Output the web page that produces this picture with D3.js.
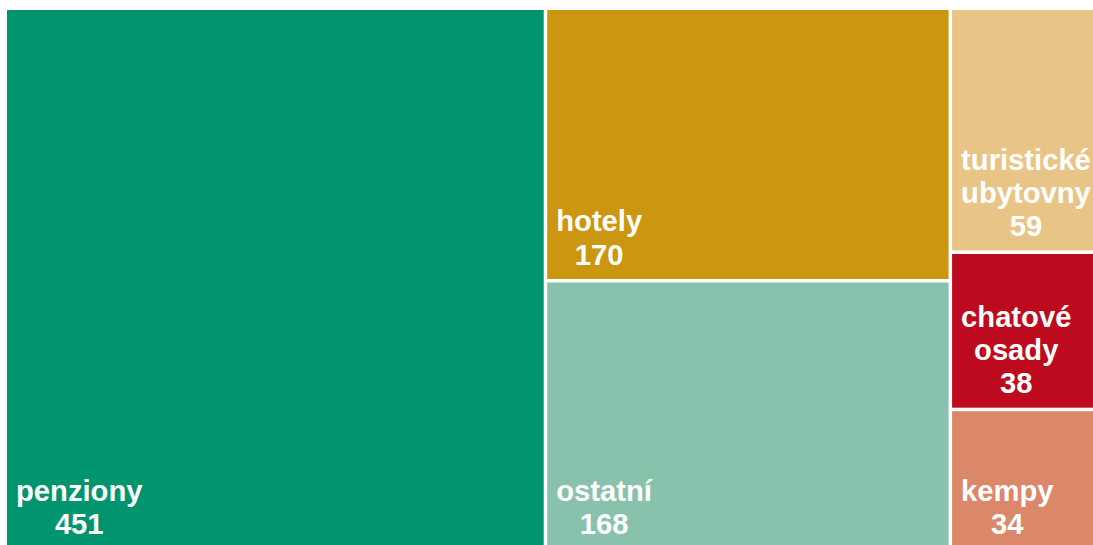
<!DOCTYPE html>
<html>
<head>
<meta charset="utf-8">
<script src="https://cdn.jsdelivr.net/npm/d3@7"></script>
<style>
  html, body { margin: 0; padding: 0; background: #ffffff; overflow: hidden; }
  svg { display: block; }
</style>
</head>
<body>
<svg id="chart" width="1093" height="545"></svg>
<script>
const categories = ["penziony", "hotely", "ostatní", "turistické ubytovny", "chatové osady", "kempy"];
const labelLines = [["penziony"], ["hotely"], ["ostatní"], ["turistické", "ubytovny"], ["chatové", "osady"], ["kempy"]];
const values = [451, 170, 168, 59, 38, 34];
const colors = ["#00946F", "#CC9610", "#88C2AD", "#E8C587", "#BD0A1E", "#DA876A"];

const W = 1093, H = 545;
const svg = d3.select("#chart");
const x0 = 7, y0 = 10;
const pad = 3.5;

const data = {
  name: "root",
  children: categories.map((c, i) => ({ name: c, value: values[i], lines: labelLines[i], color: colors[i] }))
};

const root = d3.hierarchy(data).sum(d => d.value || 0).sort((a, b) => b.value - a.value);

d3.treemap()
  .tile(d3.treemapSquarify)
  .size([1098.5, 538.3])
  .paddingInner(pad)
  .round(false)(root);

const leaves = root.leaves();

const plot = svg.append("g").attr("transform", `translate(${x0},${y0})`);
const g = plot.selectAll("g.cell").data(leaves).join("g").attr("class", "cell");

g.append("rect")
  .attr("x", d => d.x0)
  .attr("y", d => d.y0)
  .attr("width", d => d.x1 - d.x0)
  .attr("height", d => d.y1 - d.y0)
  .attr("fill", d => d.data.color);

const fontSize = 29.2;
const lineH = 33.2;

g.each(function(d) {
  const lines = d.data.lines.concat([String(d.data.value)]);
  const t = d3.select(this).append("text")
    .attr("font-family", "'Liberation Sans', Arial, Helvetica, sans-serif")
    .attr("font-weight", "bold")
    .attr("font-size", fontSize)
    .attr("fill", "#ffffff")
    .attr("text-anchor", "middle");
  lines.forEach(ln => { t.append("tspan").text(ln); });
  let maxW = 0;
  t.selectAll("tspan").each(function() {
    const w = this.getComputedTextLength();
    if (w > maxW) maxW = w;
  });
  const cx = d.x0 + 9 + maxW / 2;
  const lastBaseline = Math.min(d.y1 - 14.5, (H - 6.5) - y0);
  const n = lines.length;
  t.selectAll("tspan")
    .attr("x", cx)
    .attr("y", (ln, i) => lastBaseline - (n - 1 - i) * lineH);
});
</script>
</body>
</html>
